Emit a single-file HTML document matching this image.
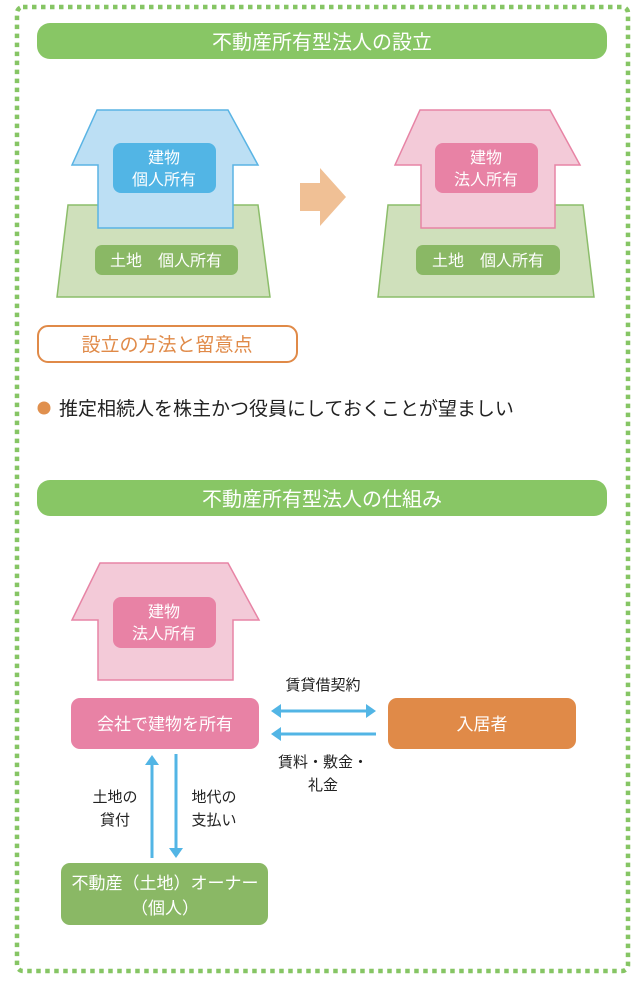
<!DOCTYPE html>
<html><head><meta charset="utf-8"><style>
html,body{margin:0;padding:0;background:#fff;}
svg{display:block;}
text{font-family:"Liberation Sans","Noto Sans CJK JP",sans-serif;}
</style></head><body>
<svg width="640" height="981" viewBox="0 0 640 981" xmlns="http://www.w3.org/2000/svg">
<rect x="17" y="7" width="611" height="964" rx="6" fill="none" stroke="#86c564" stroke-width="4.5" stroke-dasharray="4.5 4.5"/>
<rect x="37" y="23" width="570" height="36" rx="13" fill="#88c665"/>
<text x="322" y="49" font-size="20" fill="#fff" text-anchor="middle">不動産所有型法人の設立</text>

<!-- left house -->
<polygon points="68,205 258,205 270,297 57,297" fill="#cfe0bb" stroke="#8cbd6a" stroke-width="1.5"/>
<polygon points="97,110 228,110 258,165 233,165 233,228 98,228 98,165 72,165" fill="#bcdff4" stroke="#5ab4e4" stroke-width="1.5"/>
<rect x="113" y="143" width="103" height="50" rx="8" fill="#52b5e5"/>
<text x="164" y="163" font-size="16" fill="#fff" text-anchor="middle">建物</text>
<text x="164" y="185" font-size="16" fill="#fff" text-anchor="middle">個人所有</text>
<rect x="95" y="245" width="143" height="30" rx="7" fill="#8ab865"/>
<text x="166" y="266" font-size="16" fill="#fff" text-anchor="middle">土地　個人所有</text>

<!-- arrow -->
<polygon points="300,183 320,183 320,168 346,197 320,226 320,211 300,211" fill="#f0c095"/>

<!-- right house -->
<polygon points="388,205 583,205 594,297 378,297" fill="#cfe0bb" stroke="#8cbd6a" stroke-width="1.5"/>
<polygon points="420,110 550,110 580,165 555,165 555,228 421,228 421,165 395,165" fill="#f3cad8" stroke="#e784a5" stroke-width="1.5"/>
<rect x="435" y="143" width="103" height="50" rx="8" fill="#e882a5"/>
<text x="486" y="163" font-size="16" fill="#fff" text-anchor="middle">建物</text>
<text x="486" y="185" font-size="16" fill="#fff" text-anchor="middle">法人所有</text>
<rect x="416" y="245" width="144" height="30" rx="7" fill="#8ab865"/>
<text x="488" y="266" font-size="16" fill="#fff" text-anchor="middle">土地　個人所有</text>

<rect x="38" y="326" width="259" height="36" rx="10" fill="#fff" stroke="#e08a48" stroke-width="2"/>
<text x="167" y="351" font-size="19" fill="#e08a48" text-anchor="middle">設立の方法と留意点</text>

<circle cx="44" cy="408" r="6.5" fill="#e0904e"/>
<text x="59" y="415" font-size="19" fill="#222">推定相続人を株主かつ役員にしておくことが望ましい</text>

<rect x="37" y="480" width="570" height="36" rx="13" fill="#88c665"/>
<text x="322" y="506" font-size="20" fill="#fff" text-anchor="middle">不動産所有型法人の仕組み</text>

<!-- bottom house -->
<polygon points="100,563 228,563 259,620 233,620 233,680 98,680 98,620 72,620" fill="#f3cad8" stroke="#e784a5" stroke-width="1.5"/>
<rect x="113" y="597" width="103" height="51" rx="8" fill="#e882a5"/>
<text x="164" y="617" font-size="16" fill="#fff" text-anchor="middle">建物</text>
<text x="164" y="639" font-size="16" fill="#fff" text-anchor="middle">法人所有</text>

<rect x="71" y="698" width="188" height="51" rx="9" fill="#e882a5"/>
<text x="165" y="730" font-size="17" fill="#fff" text-anchor="middle">会社で建物を所有</text>
<rect x="388" y="698" width="188" height="51" rx="9" fill="#e08a48"/>
<text x="482" y="730" font-size="17" fill="#fff" text-anchor="middle">入居者</text>

<text x="323" y="690" font-size="15" fill="#222" text-anchor="middle">賃貸借契約</text>
<line x1="280" y1="711" x2="368" y2="711" stroke="#52b5e5" stroke-width="3"/>
<polygon points="271,711 281,704 281,718" fill="#52b5e5"/>
<polygon points="376,711 366,704 366,718" fill="#52b5e5"/>
<line x1="280" y1="734" x2="376" y2="734" stroke="#52b5e5" stroke-width="3"/>
<polygon points="271,734 281,727 281,741" fill="#52b5e5"/>
<text x="323" y="767" font-size="15" fill="#222" text-anchor="middle">賃料・敷金・</text>
<text x="323" y="790" font-size="15" fill="#222" text-anchor="middle">礼金</text>

<line x1="152" y1="765" x2="152" y2="858" stroke="#52b5e5" stroke-width="3"/>
<polygon points="152,755 145,765 159,765" fill="#52b5e5"/>
<line x1="176" y1="754" x2="176" y2="848" stroke="#52b5e5" stroke-width="3"/>
<polygon points="176,858 169,848 183,848" fill="#52b5e5"/>
<text x="115" y="802" font-size="15" fill="#222" text-anchor="middle">土地の</text>
<text x="115" y="825" font-size="15" fill="#222" text-anchor="middle">貸付</text>
<text x="214" y="802" font-size="15" fill="#222" text-anchor="middle">地代の</text>
<text x="214" y="825" font-size="15" fill="#222" text-anchor="middle">支払い</text>

<rect x="61" y="863" width="207" height="62" rx="9" fill="#8ab865"/>
<text x="165" y="889" font-size="17" fill="#fff" text-anchor="middle">不動産（土地）オーナー</text>
<text x="165" y="914" font-size="17" fill="#fff" text-anchor="middle">（個人）</text>
</svg>
</body></html>
